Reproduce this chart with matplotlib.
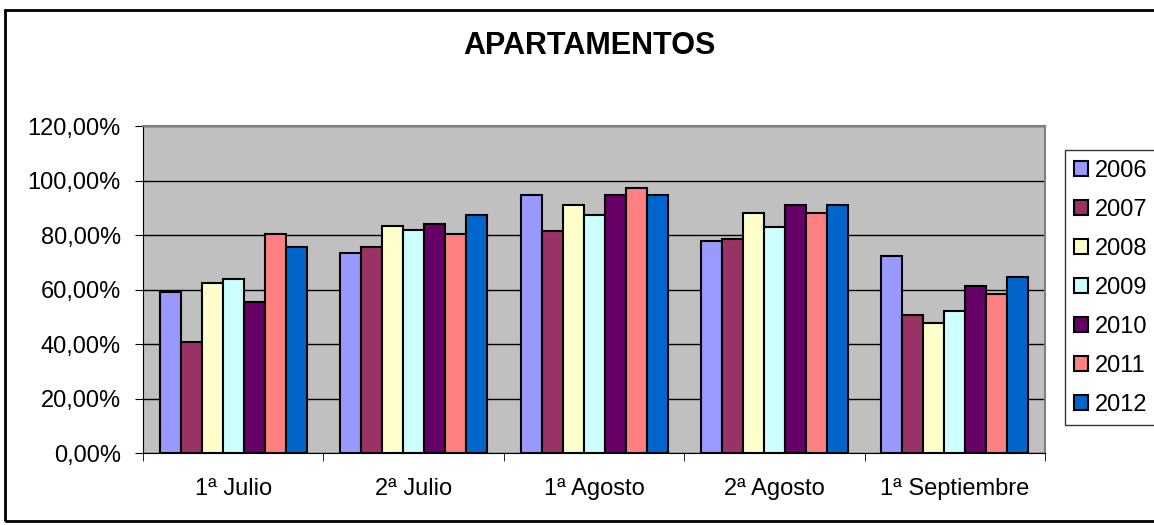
import numpy as np
import matplotlib.pyplot as plt
from matplotlib.patches import Rectangle
from matplotlib.ticker import FuncFormatter

plt.rcParams['font.family'] = ['Liberation Sans', 'DejaVu Sans']

categories = ['1ª Julio', '2ª Julio', '1ª Agosto', '2ª Agosto', '1ª Septiembre']
years = ['2006', '2007', '2008', '2009', '2010', '2011', '2012']
v2006 = [59.0, 73.5, 94.6, 77.8, 72.4]
v2007 = [40.9, 75.7, 81.3, 78.7, 50.6]
v2008 = [62.4, 83.4, 91.0, 88.2, 47.8]
v2009 = [63.8, 81.9, 87.5, 82.8, 52.0]
v2010 = [55.5, 84.1, 94.6, 91.0, 61.2]
v2011 = [80.5, 80.5, 97.4, 88.2, 58.5]
v2012 = [75.7, 87.5, 94.6, 91.0, 64.6]
series = [v2006, v2007, v2008, v2009, v2010, v2011, v2012]
colors = ['#9999FF', '#993366', '#FFFFCC', '#CCFFFF', '#660066', '#FF8080', '#0066CC']

fig = plt.figure(figsize=(11.54, 5.25), dpi=100)
ax = fig.add_axes([0.124, 0.137, 0.7816, 0.623])
ax.set_facecolor('#C0C0C0')

x = np.arange(len(categories))
w = 0.1164
for i, (vals, c, lab) in enumerate(zip(series, colors, years)):
    ax.bar(x + (i - 3) * w, vals, w, color=c, edgecolor='black', linewidth=1.5,
           label=lab, zorder=3)

ax.set_xlim(-0.5, len(categories) - 0.5)
ax.set_ylim(0, 120)
ax.set_yticks(np.arange(0, 121, 20))
ax.yaxis.set_major_formatter(FuncFormatter(lambda v, p: ('%.2f%%' % v).replace('.', ',')))
ax.grid(axis='y', color='black', linewidth=1, zorder=1)
ax.set_xticks(x)
ax.set_xticklabels(categories)
ax.set_xticks(np.arange(-0.5, len(categories), 1), minor=True)
ax.tick_params(axis='x', which='major', length=0, labelsize=17, pad=18)
ax.tick_params(axis='x', which='minor', length=6, direction='out', color='black')
ax.tick_params(axis='y', length=6, direction='out', labelsize=17, color='black', pad=10)
for s in ['top', 'right']:
    ax.spines[s].set_color('#808080')
    ax.spines[s].set_linewidth(1.5)
for s in ['left', 'bottom']:
    ax.spines[s].set_color('black')

fig.text(0.511, 0.912, 'APARTAMENTOS', ha='center', va='center',
         fontsize=22, fontweight='bold')

leg = fig.legend(loc='upper left', bbox_to_anchor=(0.9225, 0.714), fontsize=17,
                 frameon=True, fancybox=False, edgecolor='black', handlelength=0.6,
                 handleheight=0.6, handletextpad=0.3, labelspacing=0.72,
                 borderpad=0.4, borderaxespad=0)
leg.get_frame().set_linewidth(1)

fig.patches.append(Rectangle((0.004, 0.008), 1.2, 0.973, transform=fig.transFigure,
                             fill=False, edgecolor='black', linewidth=2))

fig.savefig('out.png', dpi=100)
